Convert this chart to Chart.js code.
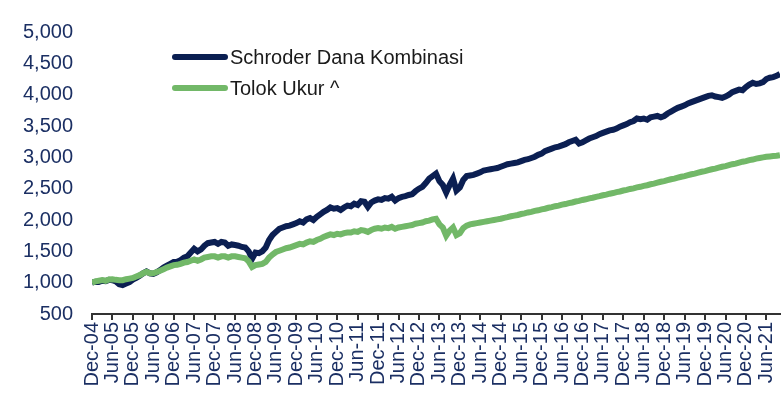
<!DOCTYPE html>
<html>
<head>
<meta charset="utf-8">
<script src="https://cdn.jsdelivr.net/npm/chart.js@4.4.0/dist/chart.umd.min.js"></script>
<style>
  html, body { margin: 0; padding: 0; background: #fff; }
  #wrap { width: 783px; height: 401px; }
</style>
</head>
<body>
<div id="wrap"><canvas id="myChart" width="783" height="401"></canvas></div>
<script>
// monthly values, Dec-04 .. Oct-21
const schroder = [
  1000, 1015, 1010, 1030, 1025, 1045, 1040, 1020, 975, 960, 985, 1010,
  1050, 1075, 1110, 1150, 1180, 1150, 1140, 1165, 1200, 1240, 1270, 1300,
  1330, 1335, 1360, 1400, 1420, 1480, 1540, 1500, 1530, 1590, 1630, 1640,
  1650, 1620, 1650, 1640, 1590, 1610, 1600, 1590, 1570, 1560, 1500, 1380,
  1480, 1470, 1500, 1560, 1680, 1760, 1810, 1860, 1880, 1900, 1910, 1930,
  1950, 1980, 1960, 2010, 2030, 2000, 2050, 2090, 2130, 2160, 2200, 2180,
  2190, 2160, 2200, 2230, 2220, 2260, 2240, 2300, 2290, 2210, 2280, 2310,
  2330, 2320, 2350, 2340, 2370, 2310, 2350, 2370, 2380, 2400, 2410, 2460,
  2500, 2530, 2590, 2660, 2700, 2740, 2620, 2560, 2440, 2560, 2660, 2470,
  2520, 2640, 2700, 2710, 2720, 2740, 2760, 2790, 2800, 2810, 2820, 2830,
  2850, 2870, 2890, 2900, 2910, 2920, 2940, 2960, 2970, 2990, 3010, 3040,
  3060, 3100, 3120, 3140, 3160, 3170, 3190, 3210, 3240, 3260, 3280, 3220,
  3240, 3270, 3300, 3320, 3340, 3370, 3390, 3410, 3430, 3440, 3460, 3490,
  3510, 3530, 3560, 3580, 3620, 3610, 3620, 3600, 3640, 3650, 3660, 3640,
  3660, 3700, 3730, 3760, 3790, 3810, 3830, 3860, 3880, 3900, 3920, 3940,
  3960, 3980, 3990, 3970, 3960, 3950, 3970, 4000, 4040, 4060, 4080, 4070,
  4120, 4160, 4190, 4170, 4180, 4200, 4250, 4270, 4280, 4300, 4330
];
const tolokUkur = [
  1000, 1020, 1030, 1040, 1030, 1050, 1055, 1045, 1040, 1040, 1055, 1065,
  1075, 1100, 1120, 1150, 1175, 1150, 1150, 1170, 1190, 1215, 1240, 1260,
  1280, 1285, 1300, 1320, 1330, 1350, 1370, 1350, 1370, 1400, 1410, 1420,
  1420, 1400, 1420, 1420, 1400, 1420, 1420, 1410, 1400, 1390, 1340, 1250,
  1280, 1290, 1300, 1330, 1400, 1450, 1490, 1510, 1530, 1550, 1560, 1580,
  1600, 1620, 1610, 1640, 1660, 1650, 1680, 1700, 1730, 1750, 1770, 1760,
  1780, 1770, 1790, 1800, 1800, 1820, 1810, 1840, 1830, 1810, 1840, 1860,
  1870, 1860, 1880, 1870, 1890, 1860, 1880, 1890, 1900, 1910, 1920, 1940,
  1950, 1960, 1980, 1990, 2010, 2020, 1930, 1880, 1750, 1830, 1880, 1760,
  1790, 1870, 1910, 1930, 1940, 1950, 1960, 1970, 1980, 1990, 2000, 2010,
  2020, 2035, 2045, 2060, 2070, 2080, 2095, 2105, 2120, 2130, 2145, 2155,
  2170, 2180, 2195, 2205, 2220, 2230, 2245, 2255, 2270, 2280, 2295, 2305,
  2320, 2330, 2345, 2355, 2370, 2380, 2395, 2405, 2420, 2430, 2445, 2455,
  2470, 2480, 2495, 2505, 2520, 2530, 2545, 2555, 2570, 2580, 2595, 2610,
  2620, 2635, 2650, 2660, 2675, 2690, 2700, 2715, 2730, 2740, 2755, 2770,
  2780, 2795, 2810, 2820, 2835, 2850, 2860, 2875, 2890, 2900, 2915, 2930,
  2940, 2955, 2965, 2980, 2990, 3000, 3010, 3015, 3020, 3025, 3035
];
const tickLabels = [
  "Dec-04", "Jun-05", "Dec-05", "Jun-06", "Dec-06", "Jun-07", "Dec-07",
  "Jun-08", "Dec-08", "Jun-09", "Dec-09", "Jun-10", "Dec-10", "Jun-11",
  "Dec-11", "Jun-12", "Dec-12", "Jun-13", "Dec-13", "Jun-14", "Dec-14",
  "Jun-15", "Dec-15", "Jun-16", "Dec-16", "Jun-17", "Dec-17", "Jun-18",
  "Dec-18", "Jun-19", "Dec-19", "Jun-20", "Dec-20", "Jun-21"
];
const seriesNames = ["Schroder Dana Kombinasi", "Tolok Ukur ^"];
const seriesColors = ["#0b1f52", "#72b868"];

const FONT = "'Liberation Sans', Arial, sans-serif";
const txtColor = "#1b2f63";

// month index 0..n-1 used as x value
const months = schroder.map((v, i) => i);

// legend drawn inside the plot, like the original
const innerLegend = {
  id: "innerLegend",
  afterDraw(chart) {
    const ctx = chart.ctx;
    ctx.save();
    for (let i = 0; i < seriesNames.length; i++) {
      const y = 57 + i * 31;
      ctx.strokeStyle = seriesColors[i];
      ctx.lineWidth = 6;
      ctx.lineCap = "round";
      ctx.beginPath();
      ctx.moveTo(175, y);
      ctx.lineTo(225, y);
      ctx.stroke();
      ctx.fillStyle = "#1a1a1a";
      ctx.font = "20px " + FONT;
      ctx.textBaseline = "middle";
      ctx.fillText(seriesNames[i], 230, y + 1);
    }
    ctx.restore();
  },
};

const data = {
  labels: months,
  datasets: [
    {
      label: seriesNames[0],
      data: schroder,
      borderColor: seriesColors[0],
      borderWidth: 6,
      pointRadius: 0,
      tension: 0,
      order: 1,
    },
    {
      label: seriesNames[1],
      data: tolokUkur,
      borderColor: seriesColors[1],
      borderWidth: 6,
      pointRadius: 0,
      tension: 0,
      order: 0,
    },
  ],
};

const config = {
  type: "line",
  data: data,
  plugins: [innerLegend],
  options: {
    responsive: false,
    animation: false,
    layout: { padding: { top: 32, right: 3, bottom: 0, left: 0 } },
    plugins: { legend: { display: false }, tooltip: { enabled: false } },
    scales: {
      x: {
        type: "linear",
        min: 0,
        max: months.length - 1,
        afterFit: (scale) => {
          scale.height = 87;
          scale.paddingLeft = 0;
          scale.paddingRight = 0;
        },
        border: { display: true, color: "#333", width: 2 },
        grid: {
          display: true,
          drawOnChartArea: false,
          drawTicks: true,
          tickLength: 6,
          color: "#333",
          lineWidth: 2,
        },
        ticks: {
          stepSize: 6,
          includeBounds: false,
          autoSkip: false,
          minRotation: 90,
          maxRotation: 90,
          padding: 2,
          color: txtColor,
          font: { family: FONT, size: 20 },
          callback: (v) => tickLabels[v / 6],
        },
      },
      y: {
        min: 500,
        max: 5000,
        afterFit: (scale) => { scale.width = 92; },
        border: { display: false },
        grid: { display: false, drawTicks: false },
        ticks: {
          stepSize: 500,
          padding: 19,
          color: txtColor,
          font: { family: FONT, size: 20 },
          callback: (v) => v.toLocaleString("en-US"),
        },
      },
    },
  },
};

const myChart = new Chart(document.getElementById("myChart"), config);
</script>
</body>
</html>
